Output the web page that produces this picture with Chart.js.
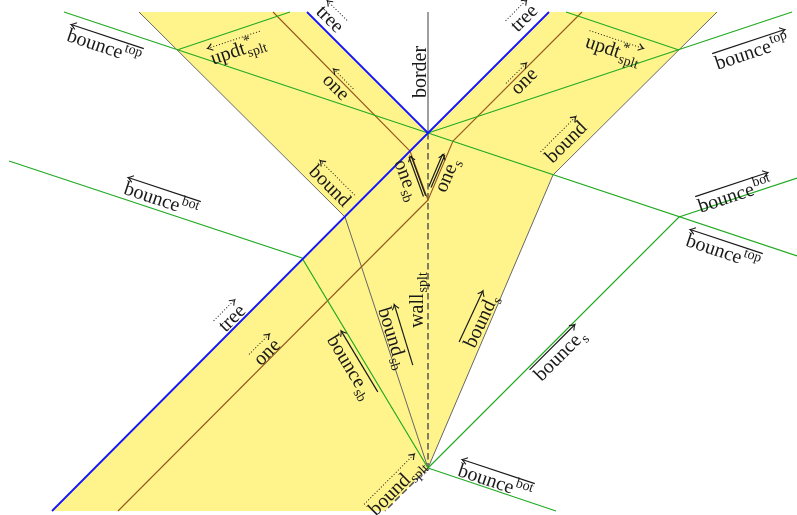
<!DOCTYPE html>
<html><head><meta charset="utf-8">
<script src="https://cdn.jsdelivr.net/npm/chart.js@4/dist/chart.umd.min.js"></script>
<style>html,body{margin:0;padding:0;background:#fff;overflow:hidden}canvas{display:block}</style>
</head><body>
<canvas id="c" width="797" height="515"></canvas>
<script>
// ---- diagram geometry (x to the right, y downward) ----
const yellowRegion   = [[139,12],[307,12],[428,133],[549,12],[717,12],[553,175],[428,468],[385,511],[52,511],[345,217],[139,12]];
const blueTreeLeft   = [[307,12],[428,133]];
const blueTreeRight  = [[549,12],[428,133],[52,511]];
const borderSolid    = [[428,12],[428,133]];
const wallDashed     = [[428,133],[428,468]];
const splitDashed    = [[428,468],[385,511]];
const boundLeft      = [[139,12],[345,217],[428,468]];
const boundRight     = [[717,12],[553,175],[428,468]];
const oneUpper       = [[273,12],[410,151],[428,200],[453,141],[582,12]];
const oneLower       = [[428,200],[118,511]];
const greenTopMain   = [[64,12],[428,133],[797,256]];
const greenTopRight  = [[428,133],[792,12]];
const greenUpdtLeft  = [[177,50],[290,12]];
const greenUpdtRight = [[566,12],[679,50]];
const greenBotLeft   = [[9,161],[302,258],[428,468]];
const greenBotRight  = [[428,468],[556,511]];
const greenBounceS   = [[428,468],[679,217],[797,178]];

// ---- labels ----
const labelText  = ['bounce','updt','tree','one','bound','bounce','border','tree','one','updt','bounce','bound','one','one','wall','bound','bound','bounce','bounce','bounce','bounce','bounce','bound','one','tree'];
const labelSup   = ['top','*','','','','bot','','','','*','top','','','','','','','','','bot','top','bot','','',''];
const labelSub   = ['','splt','','','','','','','','splt','','','sb','s','splt','sb','s','sb','s','','','','splt','',''];
const labelAt    = [[104,47],[238,50],[330,19],[336,87],[330,186],[161,200],[420,72],[524,18],[524,81],[613,50],[752,52],[566,142],[407,180],[447,175],[417,300],[393,338],[481,321],[350,367],[560,355],[735,195],[723,252],[495,482],[397,487],[267,352],[232,318]];
const labelAngle = [18.4,-18.4,45,45,45,18.4,-90,-45,-45,18.4,-18.4,-45,70,-67,-90,73,-65,59,-45,-18.4,18.4,18.4,-45,-45,-45];
const labelArrow = ['<','<.','<.','<.','<.','<','','>.','>.','>.','>','>.','<=','>=','','<','>','<','>','>','<','<','>.','>.','>.'];

const toPts = a => a.map(p => ({x:p[0], y:p[1]}));
const line = (pts, color, width, dash) => ({
  data: toPts(pts), showLine: true, fill: false, borderColor: color, borderWidth: width,
  borderDash: dash || [], pointRadius: 0, pointHoverRadius: 0, tension: 0
});

const datasets = [
  line(blueTreeLeft, '#1515ff', 1.8),
  line(blueTreeRight, '#1515ff', 1.8),
  line(greenTopMain, '#22aa22', 1.2),
  line(greenTopRight, '#22aa22', 1.2),
  line(greenUpdtLeft, '#22aa22', 1.2),
  line(greenUpdtRight, '#22aa22', 1.2),
  line(greenBotLeft, '#22aa22', 1.2),
  line(greenBotRight, '#22aa22', 1.2),
  line(greenBounceS, '#22aa22', 1.2),
  line(oneUpper, '#96581e', 1.1),
  line(oneLower, '#96581e', 1.1),
  line(boundLeft, '#666666', 1.0),
  line(boundRight, '#666666', 1.0),
  line(borderSolid, '#888888', 1.6),
  line(wallDashed, '#555555', 1.5, [6.5,3.5]),
  line(splitDashed, '#555555', 1.5, [6.5,3.5]),
  { data: toPts(yellowRegion), showLine: true, fill: 'shape', backgroundColor: '#fff48c',
    borderWidth: 0, borderColor: 'rgba(0,0,0,0)', pointRadius: 0, tension: 0 }
];

const labelPlugin = {
  id: 'diagramLabels',
  afterDatasetsDraw(chart) {
    const ctx = chart.ctx, xs = chart.scales.x, ys = chart.scales.y;
    const fs = 20, ss = 14, fam = '"Liberation Serif", serif';
    labelText.forEach((t, i) => {
      const px = xs.getPixelForValue(labelAt[i][0]);
      const py = ys.getPixelForValue(labelAt[i][1]);
      ctx.save();
      ctx.translate(px, py);
      ctx.rotate(labelAngle[i] * Math.PI / 180);
      ctx.textAlign = 'left'; ctx.textBaseline = 'alphabetic';
      ctx.font = fs + 'px ' + fam;
      const wm = ctx.measureText(t).width;
      ctx.font = ss + 'px ' + fam;
      const wsup = labelSup[i] ? ctx.measureText(labelSup[i]).width : 0;
      const wsub = labelSub[i] ? ctx.measureText(labelSub[i]).width : 0;
      const extra = Math.max(wsup, wsub);
      const w = wm + extra + (extra ? 1 : 0);
      const x0 = -w / 2, base = fs * 0.3;
      ctx.fillStyle = '#1a1a1a';
      ctx.font = fs + 'px ' + fam;
      ctx.fillText(t, x0, base);
      ctx.font = ss + 'px ' + fam;
      if (labelSup[i]) ctx.fillText(labelSup[i], x0 + wm + 1, base - fs * 0.4);
      if (labelSub[i]) ctx.fillText(labelSub[i], x0 + wm + 1, base + fs * 0.22);
      const a = labelArrow[i];
      if (a) {
        const ay = base - fs * 0.85;
        const left = a[0] === '<';
        const dotted = a.indexOf('.') >= 0, dbl = a.indexOf('=') >= 0;
        const xa = x0, xb = x0 + w;
        ctx.strokeStyle = '#1a1a1a';
        ctx.lineWidth = dotted ? 1 : 1.2;
        ctx.setLineDash(dotted ? [1, 2] : []);
        const offs = dbl ? [-1.2, 1.2] : [0];
        offs.forEach(o => {
          ctx.beginPath(); ctx.moveTo(xa, ay + o); ctx.lineTo(xb, ay + o); ctx.stroke();
        });
        ctx.setLineDash([]);
        ctx.lineWidth = 1.1;
        const tip = left ? xa : xb, dir = left ? 1 : -1;
        ctx.beginPath();
        ctx.moveTo(tip + dir * 5, ay - 3.5);
        ctx.quadraticCurveTo(tip + dir * 1.5, ay - 0.5, tip, ay);
        ctx.quadraticCurveTo(tip + dir * 1.5, ay + 0.5, tip + dir * 5, ay + 3.5);
        ctx.stroke();
      }
      ctx.restore();
    });
  }
};

new Chart(document.getElementById('c'), {
  type: 'scatter',
  data: { datasets },
  options: {
    responsive: false, animation: false, events: [],
    layout: { padding: 0 },
    plugins: { legend: { display: false }, tooltip: { enabled: false } },
    scales: {
      x: { type: 'linear', min: 0, max: 797, display: false },
      y: { type: 'linear', min: 0, max: 515, reverse: true, display: false }
    }
  },
  plugins: [labelPlugin]
});
</script>
</body></html>
